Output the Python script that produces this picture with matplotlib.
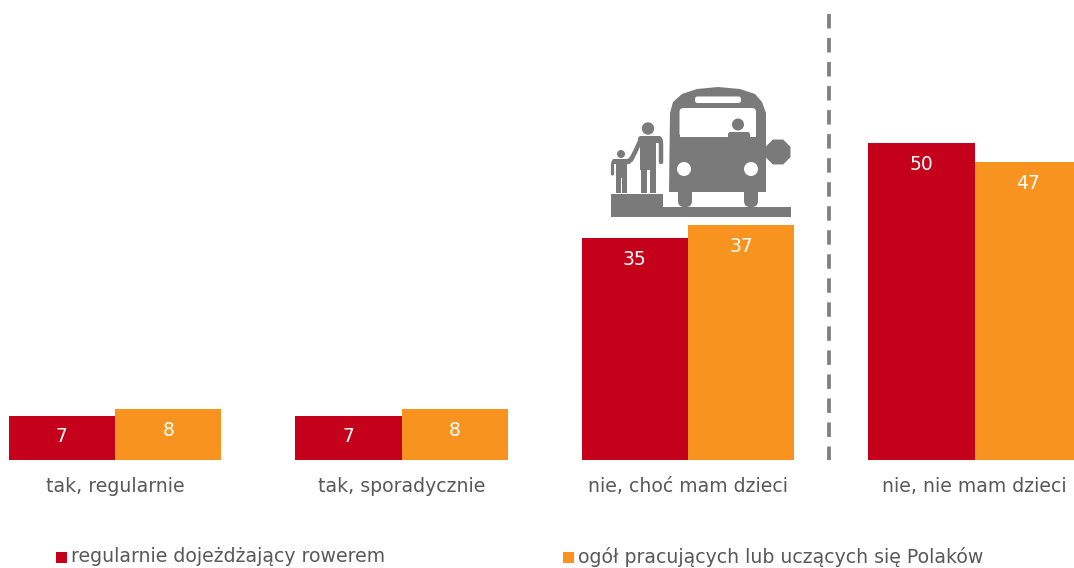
import matplotlib
matplotlib.use("Agg")
import matplotlib.pyplot as plt
import numpy as np
from matplotlib.patches import Circle, FancyBboxPatch, Polygon, Rectangle

categories = ["tak, regularnie", "tak, sporadycznie", "nie, choć mam dzieci", "nie, nie mam dzieci"]
cyclists = [7, 7, 35, 50]
all_polish = [8, 8, 37, 47]
series_names = ["regularnie dojeżdżający rowerem", "ogół pracujących lub uczących się Polaków"]

RED = "#C4001A"
ORANGE = "#F7931E"
TEXT = "#595959"
ICON = "#7A7A7A"

plt.rcParams["font.family"] = "DejaVu Sans"
plt.rcParams["lines.scale_dashes"] = False

W, H = 1074, 568
BASE = 460
fig = plt.figure(figsize=(W / 100, H / 100), dpi=100, facecolor="white")

# Bar axes: spans the full width and sits on the bar baseline
ax = fig.add_axes([0, (H - BASE) / H, 1, BASE / H])
ax.set_xlim(-115 / 286.5, (W - 115) / 286.5)
ax.set_ylim(0, BASE / 6.34)
x = np.arange(len(categories))
bw = 106.4 / 286.5
ax.bar(x - bw / 2, cyclists, bw, color=RED)
ax.bar(x + bw / 2, all_polish, bw, color=ORANGE)

for xi, a, b in zip(x, cyclists, all_polish):
    for xpos, v in ((xi - bw / 2, a), (xi + bw / 2, b)):
        ax.annotate(str(v), (xpos, v), xytext=(0, -15.2), textcoords="offset points",
                    ha="center", va="center", color="white", fontsize=13.5)

ax.set_xticks(x, categories)
ax.tick_params(axis="x", length=0, pad=12, labelsize=13.6, labelcolor=TEXT)
ax.set_yticks([])
for s in ax.spines.values():
    s.set_visible(False)
ax.patch.set_alpha(0)

# Overlay in pixel coordinates for the separator, pictogram and legend
ov = fig.add_axes([0, 0, 1, 1])
ov.set_xlim(0, W)
ov.set_ylim(H, 0)
ov.axis("off")
ov.patch.set_alpha(0)

ov.plot([829, 829], [14, 460], color="#7F7F7F", lw=2.7, linestyle=(0, (10.4, 6.9)))


def rect(x0, y0, x1, y1, color=ICON, rad=0.0):
    if rad:
        ov.add_patch(FancyBboxPatch((x0 + rad, y0 + rad), x1 - x0 - 2 * rad, y1 - y0 - 2 * rad,
                                    boxstyle=f"round,pad={rad},rounding_size={rad}",
                                    fc=color, ec="none"))
    else:
        ov.add_patch(Rectangle((x0, y0), x1 - x0, y1 - y0, fc=color, ec="none"))


def limb(xs, ys, w):
    ov.plot(xs, ys, color=ICON, lw=w * 0.72, solid_capstyle="round", solid_joinstyle="round")


# Kerb and road
rect(611, 207, 791, 217)
rect(611, 194, 663, 217)
# Wheels
rect(678, 185, 692, 207, rad=6)
rect(744, 185, 758, 207, rad=6)
# Bus body with domed roof
ov.add_patch(Polygon([(669, 192), (670, 113), (673, 102), (682, 94), (697, 89), (718, 87),
                      (740, 89), (755, 94), (762, 102), (766, 113), (766, 192)],
                     closed=True, fc=ICON, ec="none"))
# Stop sign
angles = np.deg2rad(22.5 + 45 * np.arange(8))
ov.add_patch(Polygon(np.c_[778 + 13.5 * np.cos(angles), 152 + 13.5 * np.sin(angles)],
                     closed=True, fc=ICON, ec="none"))
# Windscreen, destination board, headlights
rect(679.5, 108, 756, 137, color="white", rad=4)
rect(679.5, 125, 756, 137, color="white")
rect(695, 96.5, 741, 103, color="white", rad=2.5)
ov.add_patch(Circle((684, 169), 7, fc="white", ec="none"))
ov.add_patch(Circle((751, 169), 7, fc="white", ec="none"))
# Driver
ov.add_patch(Circle((738, 124.5), 6, fc=ICON, ec="none"))
rect(728, 132, 750, 140, rad=2.5)
# Adult
ov.add_patch(Circle((648, 128.5), 6.2, fc=ICON, ec="none"))
rect(638, 136, 662, 143, rad=3)
rect(640, 138, 656, 170)
rect(641, 160, 647, 193)
rect(650, 160, 656, 193)
limb([641, 636, 631], [139, 150, 160], 4.5)
limb([660.5, 661, 661], [140, 144, 162], 4.5)
# Child
ov.add_patch(Circle((621, 154), 4, fc=ICON, ec="none"))
rect(612, 159, 631, 164, rad=2)
rect(616, 160, 627, 178)
rect(616, 175, 620.5, 193)
rect(622, 175, 626.5, 193)
limb([613, 612.5, 612.5], [162, 165, 174], 3.2)
limb([627, 632], [162, 157], 3.2)

# Legend
for (mx, tx), name, col in zip(((56, 71), (563, 578)), series_names, (RED, ORANGE)):
    rect(mx, 552, mx + 10.5, 562.5, color=col)
    ov.text(tx, 557, name, ha="left", va="center", fontsize=13.6, color=TEXT)

fig.savefig("out.png", dpi=100, facecolor="white")
